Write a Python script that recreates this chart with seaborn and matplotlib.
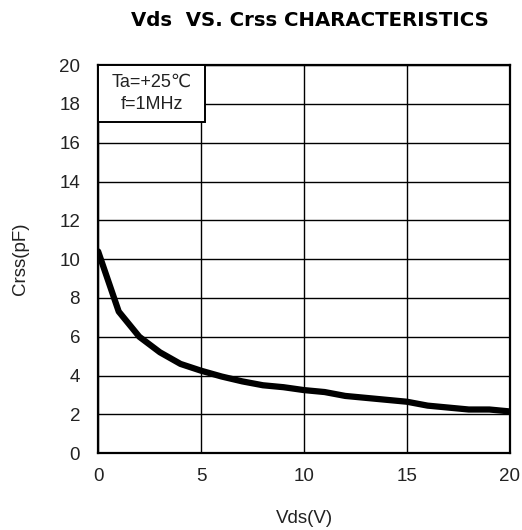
import matplotlib
matplotlib.use("Agg")
import matplotlib.pyplot as plt
from matplotlib.patches import Rectangle
import seaborn as sns
import pandas as pd

vds = [0, 1, 2, 3, 4, 5, 6, 7, 8, 9, 10, 11, 12, 13, 14, 15, 16, 17, 18, 19, 20]
crss = [10.4, 7.3, 6.0, 5.2, 4.6, 4.25, 3.95, 3.7, 3.5, 3.4, 3.25, 3.15, 2.95, 2.85, 2.75, 2.65, 2.45, 2.35, 2.25, 2.25, 2.15]
x_ticks = [0, 5, 10, 15, 20]
y_ticks = [0, 2, 4, 6, 8, 10, 12, 14, 16, 18, 20]

sns.set_theme(style="white")
plt.rcParams['font.family'] = ['Liberation Sans', 'DejaVu Sans']

df = pd.DataFrame({"Vds": vds, "Crss": crss})
fig = plt.figure(figsize=(5.22, 5.30), dpi=100)
ax = fig.add_axes([0.188, 0.145, 0.789, 0.732])
sns.lineplot(data=df, x="Vds", y="Crss", ax=ax, color="black", linewidth=4.5)

ax.set_xlim(0, 20)
ax.set_ylim(0, 20)
ax.set_xticks(x_ticks)
ax.set_yticks(y_ticks)
ax.grid(True, color="black", linewidth=1.0)
for s in ax.spines.values():
    s.set_color("black")
    s.set_linewidth(1.6)
ax.tick_params(axis="both", length=0, labelsize=13.5, colors="#222222")
ax.tick_params(axis="x", pad=11)
ax.tick_params(axis="y", pad=13)
ax.set_xlabel("Vds(V)", fontsize=13.5, color="#222222", labelpad=18)
ax.set_ylabel("Crss(pF)", fontsize=13.5, color="#222222", labelpad=22)

fig.text(0.594, 0.962, "Vds  VS. Crss CHARACTERISTICS", ha="center", va="center",
         fontsize=14.2, fontweight="bold", color="black", family="DejaVu Sans")

ax.add_patch(Rectangle((0, 17.05), 5.2, 2.95, facecolor="white", edgecolor="black",
                       linewidth=1.4, zorder=5))
ax.text(2.6, 19.1, "Ta=+25\u2103", ha="center", va="center", fontsize=13,
        color="#222222", zorder=6)
ax.text(2.6, 17.95, "f=1MHz", ha="center", va="center", fontsize=13,
        color="#222222", zorder=6)

fig.savefig("out.png", dpi=100)
